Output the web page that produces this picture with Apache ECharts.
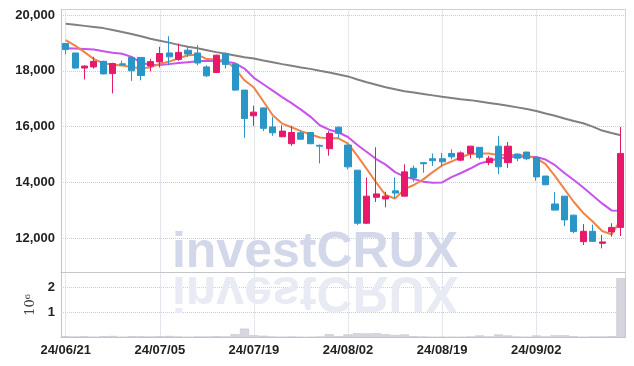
<!DOCTYPE html>
<html><head><meta charset="utf-8">
<script src="https://cdn.jsdelivr.net/npm/echarts@6/dist/echarts.min.js"></script>
<style>html,body{margin:0;padding:0;background:#fff}#c{width:634px;height:366px}</style>
</head><body><div id="c"></div>
<script>
const dates = ['24/06/21','24/06/24','24/06/25','24/06/26','24/06/27','24/06/28','24/07/01','24/07/02','24/07/03','24/07/04',
'24/07/05','24/07/08','24/07/09','24/07/10','24/07/11','24/07/12','24/07/15','24/07/16','24/07/17','24/07/18',
'24/07/19','24/07/22','24/07/23','24/07/24','24/07/25','24/07/26','24/07/29','24/07/30','24/07/31','24/08/01',
'24/08/02','24/08/05','24/08/06','24/08/07','24/08/08','24/08/09','24/08/12','24/08/13','24/08/14','24/08/16',
'24/08/19','24/08/20','24/08/21','24/08/22','24/08/23','24/08/26','24/08/27','24/08/28','24/08/29','24/08/30',
'24/09/02','24/09/03','24/09/04','24/09/05','24/09/06','24/09/09','24/09/10','24/09/11','24/09/12','24/09/13'];
const opens = [18980,18640,18100,18140,18340,17900,18250,18480,18480,18170,18320,18640,18410,18740,18640,18140,17940,18620,18240,17310,
16390,16670,15990,15640,15390,15780,15790,15330,15210,15980,15340,14440,12540,13470,13410,13700,13510,14510,14710,14850,
14850,15040,14800,15040,15260,14710,15300,14710,15020,15090,14900,14230,13230,13510,12830,11880,12250,11820,12230,12390];
const closes = [18760,18100,18170,18340,17890,18260,18220,18000,17830,18330,18620,18500,18660,18600,18280,17820,18560,18230,17310,16290,
16520,15940,15780,15840,15790,15550,15390,15300,15760,15760,14560,12540,13510,13590,13510,13620,14380,14160,14670,14780,
14740,14920,15060,15300,14900,14870,14560,15300,14870,14850,14200,13920,13010,12660,12240,12250,11890,11870,12390,15040];
const lows = [18590,18070,17690,18080,17870,17190,18170,17640,17660,17980,18120,18200,18360,18500,18200,17780,17930,18080,17280,15600,
16030,15840,15670,15620,15310,15540,15370,14680,14960,15580,14470,12480,12520,13300,13110,13440,13500,14030,14350,14590,
14560,14830,14760,14860,14830,14620,14300,14520,14760,14800,14060,13900,13000,12440,12180,11760,11880,11640,12060,12080];
const highs = [19000,18640,18200,18500,18360,18290,18360,18480,18480,18430,18860,19240,18980,18860,18920,18200,18580,18660,18260,17310,
16750,16680,16350,16050,16030,15860,15800,15360,15840,16000,15350,14450,14180,15260,13670,14180,14650,14610,14730,15040,
15060,15190,15110,15310,15260,14950,15660,15450,15030,15100,14910,14240,13660,13520,12840,12510,12490,12120,12540,15990];
const ma5 = [19100,18900,18670,18420,18270,18220,18190,18140,18080,18130,18250,18330,18450,18560,18580,18420,18410,18360,18080,17660,
17400,16910,16410,16110,15980,15840,15730,15610,15580,15580,15390,14950,14480,14000,13550,13420,13760,13910,14110,14370,
14610,14750,14910,15020,15040,15040,14980,14980,14980,14960,14870,14660,14230,13760,13300,12910,12600,12260,12140,12660];
const ma20 = [18810,18800,18780,18760,18700,18650,18610,18500,18290,18220,18210,18240,18280,18310,18340,18360,18340,18330,18270,18080,
17750,17520,17290,17060,16840,16610,16360,16050,15890,15790,15630,15340,15090,14840,14640,14370,14210,14120,14030,13990,
14000,14190,14340,14500,14680,14770,14860,14900,14920,14920,14910,14820,14620,14340,14090,13820,13530,13250,13000,12990];
const ma120 = [19690,19650,19610,19570,19530,19460,19390,19320,19240,19150,19080,19010,18930,18860,18810,18740,18670,18610,18550,18490,
18440,18370,18310,18240,18180,18120,18070,18000,17940,17870,17800,17690,17590,17500,17410,17340,17270,17220,17170,17120,
17070,17030,16980,16950,16900,16850,16800,16750,16690,16630,16560,16470,16390,16290,16200,16120,16000,15860,15770,15690];
const volumes = [50000,40000,50000,30000,50000,60000,30000,50000,50000,40000,50000,60000,40000,30000,40000,40000,50000,40000,130000,350000,
90000,70000,40000,30000,40000,30000,30000,40000,130000,50000,120000,170000,160000,170000,130000,100000,120000,50000,40000,30000,
30000,30000,30000,40000,80000,40000,120000,80000,40000,30000,80000,40000,90000,90000,50000,30000,40000,40000,50000,2350000];

const candleData = dates.map((d, i) => [opens[i], closes[i], lows[i], highs[i]]);
const FONT = "'Liberation Sans',Arial,sans-serif";
const GRIDC = '#c9cde0';
const AXC = '#c4c4cc';
const WM = 'bold 50px "Liberation Sans", Arial, sans-serif';

const chart = echarts.init(document.getElementById('c'), null, {renderer: 'canvas'});
const catSplit = {show: true, interval: 9, alignWithLabel: true, lineStyle: {color: GRIDC, type: 'dotted', width: 1}};
chart.setOption({
  animation: false,
  backgroundColor: '#ffffff',
  grid: [
    {left: 61, right: 8.4, top: 9.3, height: 263},
    {left: 61, right: 8.4, top: 272.3, height: 65.2}
  ],
  graphic: [
    {type: 'text', z: 1, x: 315, y: 253.5, silent: true,
      style: {text: 'investCRUX', font: WM, fill: '#d2d8ea', textAlign: 'center', textVerticalAlign: 'middle', verticalAlign: 'middle'}},
    {type: 'text', z: 1, x: 315, y: 272, scaleY: -1, silent: true,
      style: {text: 'investCRUX', y: -18.5, font: WM, fill: '#e8eaf4', textAlign: 'center', textVerticalAlign: 'middle', verticalAlign: 'middle'}}
  ],
  xAxis: [
    {type: 'category', gridIndex: 0, data: dates, boundaryGap: true,
      axisLine: {show: true, lineStyle: {color: AXC}}, axisTick: {show: false}, axisLabel: {show: false},
      splitLine: catSplit},
    {type: 'category', gridIndex: 1, data: dates, boundaryGap: true,
      axisLine: {show: true, lineStyle: {color: AXC}}, axisTick: {show: false},
      axisLabel: {interval: 9, fontFamily: FONT, fontSize: 13, fontWeight: 'bold', color: '#222', margin: 6},
      splitLine: catSplit},
    {type: 'category', gridIndex: 0, data: dates, position: 'top',
      axisLine: {show: true, lineStyle: {color: '#d0d0d4'}}, axisTick: {show: false}, axisLabel: {show: false}, splitLine: {show: false}}
  ],
  yAxis: [
    {type: 'value', gridIndex: 0, min: 10782, max: 20204, scale: true,
      axisLine: {show: true, lineStyle: {color: AXC}}, axisTick: {show: false},
      axisLabel: {showMinLabel: false, showMaxLabel: false, fontFamily: FONT, fontSize: 13, fontWeight: 'bold', color: '#222', margin: 6,
        formatter: v => Math.round(v).toLocaleString('en-US')},
      splitLine: {show: true, lineStyle: {color: GRIDC, type: 'dotted'}}},
    {type: 'value', gridIndex: 1, min: 0, max: 2585000, interval: 1000000,
      name: '10⁶', nameLocation: 'middle', nameGap: 17,
      nameTextStyle: {fontFamily: "'DejaVu Serif','Liberation Serif',serif", fontSize: 13, color: '#444'},
      axisLine: {show: true, lineStyle: {color: AXC}}, axisTick: {show: false},
      axisLabel: {showMinLabel: false, showMaxLabel: false, fontFamily: FONT, fontSize: 13, fontWeight: 'bold', color: '#222', margin: 6,
        formatter: v => String(Math.round(v / 1e6))},
      splitLine: {show: true, lineStyle: {color: GRIDC, type: 'dotted'}}},
    {type: 'value', gridIndex: 0, position: 'right', min: 0, max: 1,
      axisLine: {show: true, lineStyle: {color: GRIDC, type: 'dotted'}}, axisTick: {show: false}, axisLabel: {show: false}, splitLine: {show: false}},
    {type: 'value', gridIndex: 1, position: 'right', min: 0, max: 1,
      axisLine: {show: true, lineStyle: {color: GRIDC, type: 'dotted'}}, axisTick: {show: false}, axisLabel: {show: false}, splitLine: {show: false}}
  ],
  series: [
    {name: 'MA120', type: 'line', xAxisIndex: 0, yAxisIndex: 0, data: ma120, symbol: 'none', z: 3,
      lineStyle: {color: '#808080', width: 2}},
    {name: 'MA20', type: 'line', xAxisIndex: 0, yAxisIndex: 0, data: ma20, symbol: 'none', z: 3,
      lineStyle: {color: '#c852ee', width: 2}},
    {name: 'MA5', type: 'line', xAxisIndex: 0, yAxisIndex: 0, data: ma5, symbol: 'none', z: 3,
      lineStyle: {color: '#ef8348', width: 2}},
    {name: 'Price', type: 'candlestick', xAxisIndex: 0, yAxisIndex: 0, data: candleData, barWidth: '70%', z: 4,
      itemStyle: {color: '#e6196b', color0: '#2a96c8', borderColor: '#e6196b', borderColor0: '#2a96c8', borderWidth: 1}},
    {name: 'Volume', type: 'bar', xAxisIndex: 1, yAxisIndex: 1, data: volumes, barCategoryGap: '4%', z: 3,
      itemStyle: {color: '#d6d6de', borderColor: '#bfbfc8', borderWidth: 0.5}}
  ]
});
</script></body></html>
